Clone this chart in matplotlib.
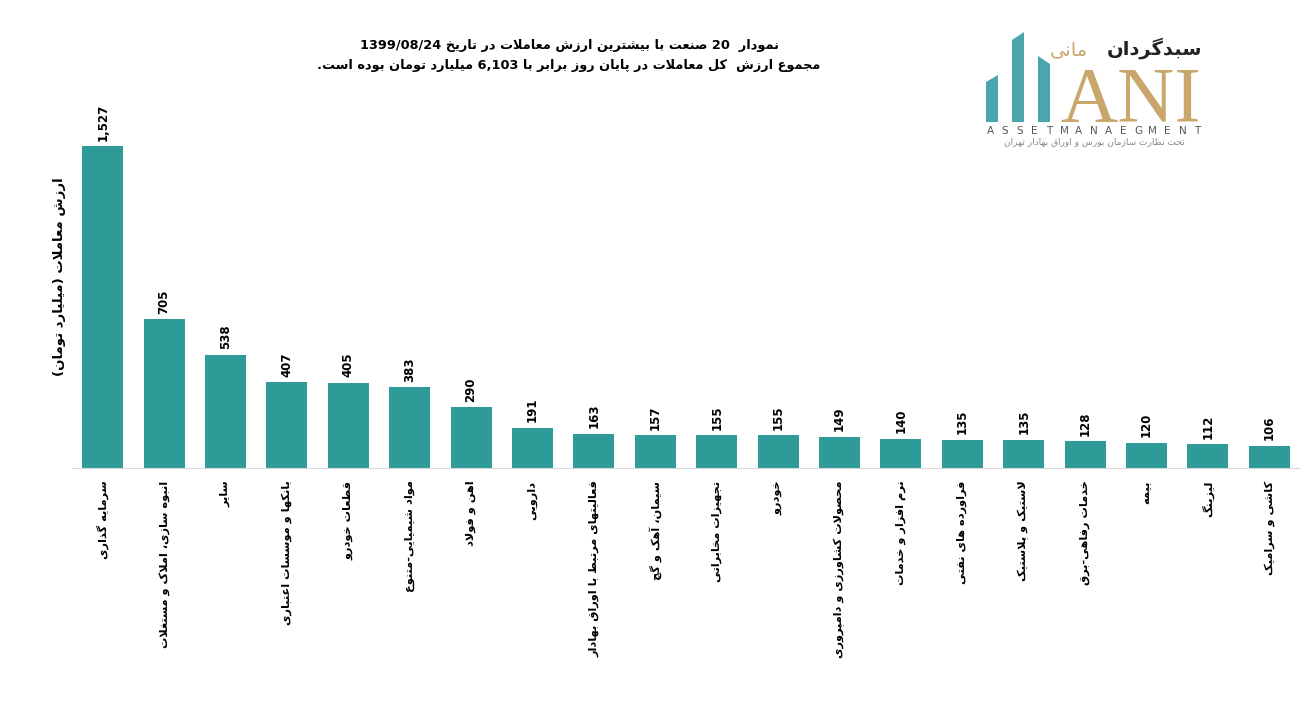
import re
import matplotlib
matplotlib.use('Agg')
import matplotlib.pyplot as plt
from matplotlib.patches import Polygon

# ---- data ----
sectors = [
    'سرمایه گذاری',
    'انبوه سازی، املاک و مستغلات',
    'سایر',
    'بانکها و موسسات اعتباری',
    'قطعات خودرو',
    'مواد شیمیایی-متنوع',
    'اهن و فولاد',
    'دارویی',
    'فعالیتهای مرتبط با اوراق بهادار',
    'سیمان، آهک و گچ',
    'تجهیزات مخابراتی',
    'خودرو',
    'محصولات کشاورزی و دامپروری',
    'نرم افزار و خدمات',
    'فراورده های نفتی',
    'لاستیک و پلاستیک',
    'خدمات رفاهی-برق',
    'بیمه',
    'لیزینگ',
    'کاشی و سرامیک',
]
values = [1527, 705, 538, 407, 405, 383, 290, 191, 163, 157,
          155, 155, 149, 140, 135, 135, 128, 120, 112, 106]

title_1 = 'نمودار  20 صنعت با بیشترین ارزش معاملات در تاریخ 1399/08/24'
title_2 = 'مجموع ارزش  کل معاملات در پایان روز برابر با 6,103 میلیارد تومان بوده است.'
y_label = 'ارزش معاملات (میلیارد تومان)'

bar_color = '#2E9B98'
teal = '#4AA6AC'
gold = '#C9A66B'

# ---- minimal persian shaping + rtl ordering (mpl has no complex text layout) ----
# isolated, final, initial, medial
FORMS = {
    'ا': (0xFE8D, 0xFE8E), 'آ': (0xFE81, 0xFE82), 'أ': (0xFE83, 0xFE84),
    'إ': (0xFE87, 0xFE88), 'ؤ': (0xFE85, 0xFE86), 'ة': (0xFE93, 0xFE94),
    'د': (0xFEA9, 0xFEAA), 'ذ': (0xFEAB, 0xFEAC), 'ر': (0xFEAD, 0xFEAE),
    'ز': (0xFEAF, 0xFEB0), 'ژ': (0xFB8A, 0xFB8B), 'و': (0xFEED, 0xFEEE),
    'ب': (0xFE8F, 0xFE90, 0xFE91, 0xFE92), 'پ': (0xFB56, 0xFB57, 0xFB58, 0xFB59),
    'ت': (0xFE95, 0xFE96, 0xFE97, 0xFE98), 'ث': (0xFE99, 0xFE9A, 0xFE9B, 0xFE9C),
    'ج': (0xFE9D, 0xFE9E, 0xFE9F, 0xFEA0), 'چ': (0xFB7A, 0xFB7B, 0xFB7C, 0xFB7D),
    'ح': (0xFEA1, 0xFEA2, 0xFEA3, 0xFEA4), 'خ': (0xFEA5, 0xFEA6, 0xFEA7, 0xFEA8),
    'س': (0xFEB1, 0xFEB2, 0xFEB3, 0xFEB4), 'ش': (0xFEB5, 0xFEB6, 0xFEB7, 0xFEB8),
    'ص': (0xFEB9, 0xFEBA, 0xFEBB, 0xFEBC), 'ض': (0xFEBD, 0xFEBE, 0xFEBF, 0xFEC0),
    'ط': (0xFEC1, 0xFEC2, 0xFEC3, 0xFEC4), 'ظ': (0xFEC5, 0xFEC6, 0xFEC7, 0xFEC8),
    'ع': (0xFEC9, 0xFECA, 0xFECB, 0xFECC), 'غ': (0xFECD, 0xFECE, 0xFECF, 0xFED0),
    'ف': (0xFED1, 0xFED2, 0xFED3, 0xFED4), 'ق': (0xFED5, 0xFED6, 0xFED7, 0xFED8),
    'ک': (0xFB8E, 0xFB8F, 0xFB90, 0xFB91), 'ك': (0xFED9, 0xFEDA, 0xFEDB, 0xFEDC),
    'گ': (0xFB92, 0xFB93, 0xFB94, 0xFB95), 'ل': (0xFEDD, 0xFEDE, 0xFEDF, 0xFEE0),
    'م': (0xFEE1, 0xFEE2, 0xFEE3, 0xFEE4), 'ن': (0xFEE5, 0xFEE6, 0xFEE7, 0xFEE8),
    'ه': (0xFEE9, 0xFEEA, 0xFEEB, 0xFEEC), 'ی': (0xFBFC, 0xFBFD, 0xFBFE, 0xFBFF),
    'ي': (0xFEF1, 0xFEF2, 0xFEF3, 0xFEF4), 'ئ': (0xFE89, 0xFE8A, 0xFE8B, 0xFE8C),
}
LAM_ALEF = {'ا': (0xFEFB, 0xFEFC), 'آ': (0xFEF5, 0xFEF6),
            'أ': (0xFEF7, 0xFEF8), 'إ': (0xFEF9, 0xFEFA)}


def dual(c):
    return c in FORMS and len(FORMS[c]) == 4


def shape(s):
    out = []
    i = 0
    n = len(s)
    while i < n:
        c = s[i]
        prev = s[i - 1] if i > 0 else ''
        joins_prev = dual(prev)
        if c == 'ل' and i + 1 < n and s[i + 1] in LAM_ALEF:
            out.append(chr(LAM_ALEF[s[i + 1]][1 if joins_prev else 0]))
            i += 2
            continue
        if c not in FORMS:
            out.append(c)
            i += 1
            continue
        nxt = s[i + 1] if i + 1 < n else ''
        joins_next = dual(c) and nxt in FORMS
        f = FORMS[c]
        if joins_prev and joins_next:
            out.append(chr(f[3]))
        elif joins_prev:
            out.append(chr(f[1]))
        elif joins_next:
            out.append(chr(f[2]))
        else:
            out.append(chr(f[0]))
        i += 1
    return ''.join(out)


MIRROR = {'(': ')', ')': '('}


def fa(s):
    s = shape(s)
    tokens = re.findall(r'[0-9A-Za-z]+(?:[/,.:][0-9A-Za-z]+)*|.', s)
    tokens = [MIRROR.get(t, t) for t in tokens]
    return ''.join(reversed(tokens))


plt.rcParams['font.family'] = ['DejaVu Sans']

fig = plt.figure(figsize=(13, 7.14), dpi=100)
ax = fig.add_axes([0.0554, 0.3445, 0.9446, 0.502])

x = list(range(len(values)))
ax.bar(x, values, width=0.67, color=bar_color, zorder=2)
ax.set_xlim(-0.5, len(values) - 0.5)
ax.set_ylim(0, 1700)

for xi, v in zip(x, values):
    ax.text(xi, v + 25, f'{v:,}', rotation=90, ha='center', va='bottom',
            fontsize=8.5, fontweight='bold', color='black')

ax.set_xticks(x)
ax.set_xticklabels([fa(s) for s in sectors], rotation=90, ha='center', va='top',
                   fontsize=8.2, fontweight='bold')
ax.tick_params(axis='x', length=0, pad=9)
ax.set_yticks([])
for side in ['top', 'right', 'left']:
    ax.spines[side].set_visible(False)
ax.spines['bottom'].set_color('#D9D9D9')
ax.spines['bottom'].set_linewidth(0.8)

fig.text(60 / 1300, 1 - 277 / 714, fa(y_label), rotation=90, ha='center', va='center',
         fontsize=9.5, fontweight='bold')

fig.text(569 / 1300, 1 - 45 / 714, fa(title_1), ha='center', va='center',
         fontsize=9.3, fontweight='bold')
fig.text(569 / 1300, 1 - 66 / 714, fa(title_2), ha='center', va='center',
         fontsize=9.3, fontweight='bold')

# ---- logo ----
def px(xp, yp):
    return (xp / 1300, 1 - yp / 714)


logo_bars = [
    [(986, 122), (986, 82), (998, 75), (998, 122)],
    [(1012, 122), (1012, 40), (1024, 32), (1024, 122)],
    [(1038, 122), (1038, 56), (1050, 64), (1050, 122)],
]
for pts in logo_bars:
    fig.patches.append(Polygon([px(*p) for p in pts], closed=True, facecolor=teal,
                               edgecolor='none', transform=fig.transFigure, figure=fig))

fig.text(*px(1131, 121), 'ANI', ha='center', va='baseline', fontsize=57,
         family='Liberation Serif', color=gold)
fig.text(*px(1202, 55), fa('سبدگردان'), ha='right', va='baseline', fontsize=14,
         fontweight='bold', color='#222222')
fig.text(*px(1088, 55), fa('مانی'), ha='right', va='baseline', fontsize=14, color=gold)

brand = 'ASSETMANAEGMENT'
for k, ch in enumerate(brand):
    fig.text(*px(990 + k * 14.8, 131), ch, ha='center', va='center', fontsize=7.5,
             color='#555555')
fig.text(*px(1094, 142), fa('تحت نظارت سازمان بورس و اوراق بهادار تهران'),
         ha='center', va='center', fontsize=6.5, color='#888888')

fig.savefig('out.png', dpi=100)
